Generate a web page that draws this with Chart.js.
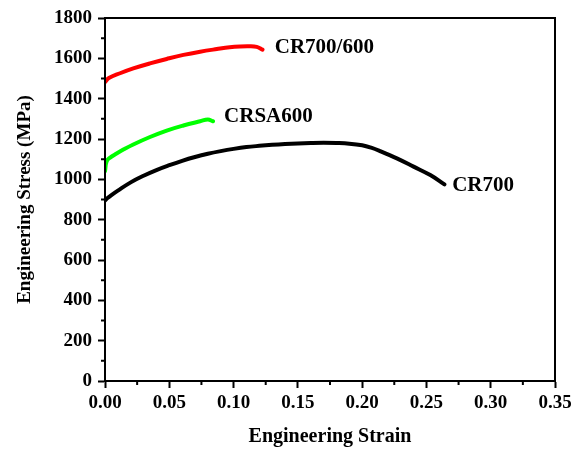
<!DOCTYPE html>
<html>
<head>
<meta charset="utf-8">
<script src="https://cdn.jsdelivr.net/npm/chart.js@4/dist/chart.umd.min.js"></script>
<style>
  html, body { margin: 0; padding: 0; background: #fff; }
  #wrap { width: 581px; height: 449px; }
</style>
</head>
<body>
<div id="wrap"><canvas id="stressChart" width="581" height="449"></canvas></div>
<script>
// values
const xTicks = [0, 0.05, 0.10, 0.15, 0.20, 0.25, 0.30, 0.35];
const yTicks = [0, 200, 400, 600, 800, 1000, 1200, 1400, 1600, 1800];

const redStrain = [0, 0.003, 0.0117, 0.022, 0.035, 0.048, 0.061, 0.074, 0.087, 0.097, 0.105, 0.112, 0.118, 0.1225];
const redStress = [1482, 1502, 1526, 1550, 1575, 1597, 1617, 1633, 1646, 1655, 1659, 1660, 1657, 1643];

const greenStrain = [0, 0.0013, 0.004, 0.009, 0.015, 0.022, 0.035, 0.048, 0.061, 0.074, 0.080, 0.084];
const greenStress = [1040, 1090, 1108, 1128, 1150, 1173, 1210, 1242, 1267, 1288, 1297, 1288];

const blackStrain = [0, 0.002, 0.005, 0.01, 0.02, 0.03, 0.04, 0.05, 0.06, 0.07, 0.08, 0.09, 0.10, 0.11, 0.12, 0.13, 0.14, 0.15, 0.16, 0.17, 0.18, 0.19, 0.20, 0.207, 0.214, 0.227, 0.24, 0.253, 0.264];
const blackStress = [895, 907, 922, 944, 985, 1018, 1046, 1070, 1092, 1111, 1127, 1140, 1151, 1160, 1166, 1171, 1175, 1178, 1180, 1181, 1180, 1177, 1169, 1157, 1140, 1104, 1063, 1021, 975];

const curveLabels = [
  { text: 'CR700/600', x: 0.132, y: 1651 },
  { text: 'CRSA600', x: 0.0926, y: 1309 },
  { text: 'CR700', x: 0.27, y: 967 }
];

const serif = '"Liberation Serif", "Times New Roman", serif';

function toPoints(xs, ys) {
  return xs.map((x, i) => ({ x: x, y: ys[i] }));
}

// minor ticks, box frame and curve names
const extras = {
  id: 'extras',
  afterDraw(chart) {
    const ctx = chart.ctx;
    const area = chart.chartArea;
    const xs = chart.scales.x;
    const ys = chart.scales.y;
    ctx.save();
    ctx.strokeStyle = '#000';
    ctx.lineWidth = 2;
    ctx.strokeRect(area.left, area.top, area.right - area.left, area.bottom - area.top);

    ctx.beginPath();
    for (let i = 0; i < xTicks.length - 1; i++) {
      const px = xs.getPixelForValue((xTicks[i] + xTicks[i + 1]) / 2);
      ctx.moveTo(px, area.bottom);
      ctx.lineTo(px, area.bottom + 4);
    }
    for (let i = 0; i < yTicks.length - 1; i++) {
      const py = ys.getPixelForValue((yTicks[i] + yTicks[i + 1]) / 2);
      ctx.moveTo(area.left, py);
      ctx.lineTo(area.left - 4, py);
    }
    ctx.stroke();

    ctx.fillStyle = '#000';
    ctx.font = 'bold 21px ' + serif;
    ctx.textAlign = 'left';
    ctx.textBaseline = 'middle';
    curveLabels.forEach(l => {
      ctx.fillText(l.text, xs.getPixelForValue(l.x), ys.getPixelForValue(l.y));
    });
    ctx.restore();
  }
};

const lineStyle = { borderWidth: 4, pointRadius: 0, fill: false, tension: 0.4, borderCapStyle: 'round' };

new Chart(document.getElementById('stressChart').getContext('2d'), {
  type: 'line',
  data: {
    datasets: [
      Object.assign({ label: 'CR700/600', data: toPoints(redStrain, redStress), borderColor: '#ff0000' }, lineStyle),
      Object.assign({ label: 'CRSA600', data: toPoints(greenStrain, greenStress), borderColor: '#00ff00' }, lineStyle),
      Object.assign({ label: 'CR700', data: toPoints(blackStrain, blackStress), borderColor: '#000000' }, lineStyle)
    ]
  },
  options: {
    responsive: false,
    devicePixelRatio: 1,
    animation: false,
    layout: { padding: { left: 0, right: 26, top: 18, bottom: 0 } },
    plugins: { legend: { display: false }, tooltip: { enabled: false } },
    scales: {
      x: {
        type: 'linear',
        min: 0,
        max: 0.35,
        afterBuildTicks: scale => { scale.ticks = xTicks.map(v => ({ value: v })); },
        afterFit: scale => { scale.height = 68; },
        ticks: {
          callback: v => v.toFixed(2),
          color: '#000',
          padding: 4,
          maxRotation: 0,
          autoSkip: false,
          font: { family: serif, size: 19, weight: 'bold' }
        },
        grid: { drawOnChartArea: false, tickLength: 7, tickWidth: 2, tickColor: '#000' },
        border: { display: true, color: '#000', width: 2 },
        title: {
          display: true,
          text: 'Engineering Strain',
          color: '#000',
          padding: { top: 0, bottom: 0 },
          font: { family: serif, size: 20, weight: 'bold' }
        }
      },
      y: {
        min: 0,
        max: 1800,
        afterBuildTicks: scale => { scale.ticks = yTicks.map(v => ({ value: v })); },
        afterFit: scale => { scale.width = 105; },
        ticks: {
          callback: v => String(v),
          color: '#000',
          padding: 6,
          autoSkip: false,
          font: { family: serif, size: 19, weight: 'bold' }
        },
        grid: { drawOnChartArea: false, tickLength: 7, tickWidth: 2, tickColor: '#000' },
        border: { display: true, color: '#000', width: 2 },
        title: {
          display: true,
          text: 'Engineering Stress (MPa)',
          color: '#000',
          padding: { top: 14, bottom: 0 },
          font: { family: serif, size: 19, weight: 'bold' }
        }
      }
    }
  },
  plugins: [extras]
});
</script>
</body>
</html>
